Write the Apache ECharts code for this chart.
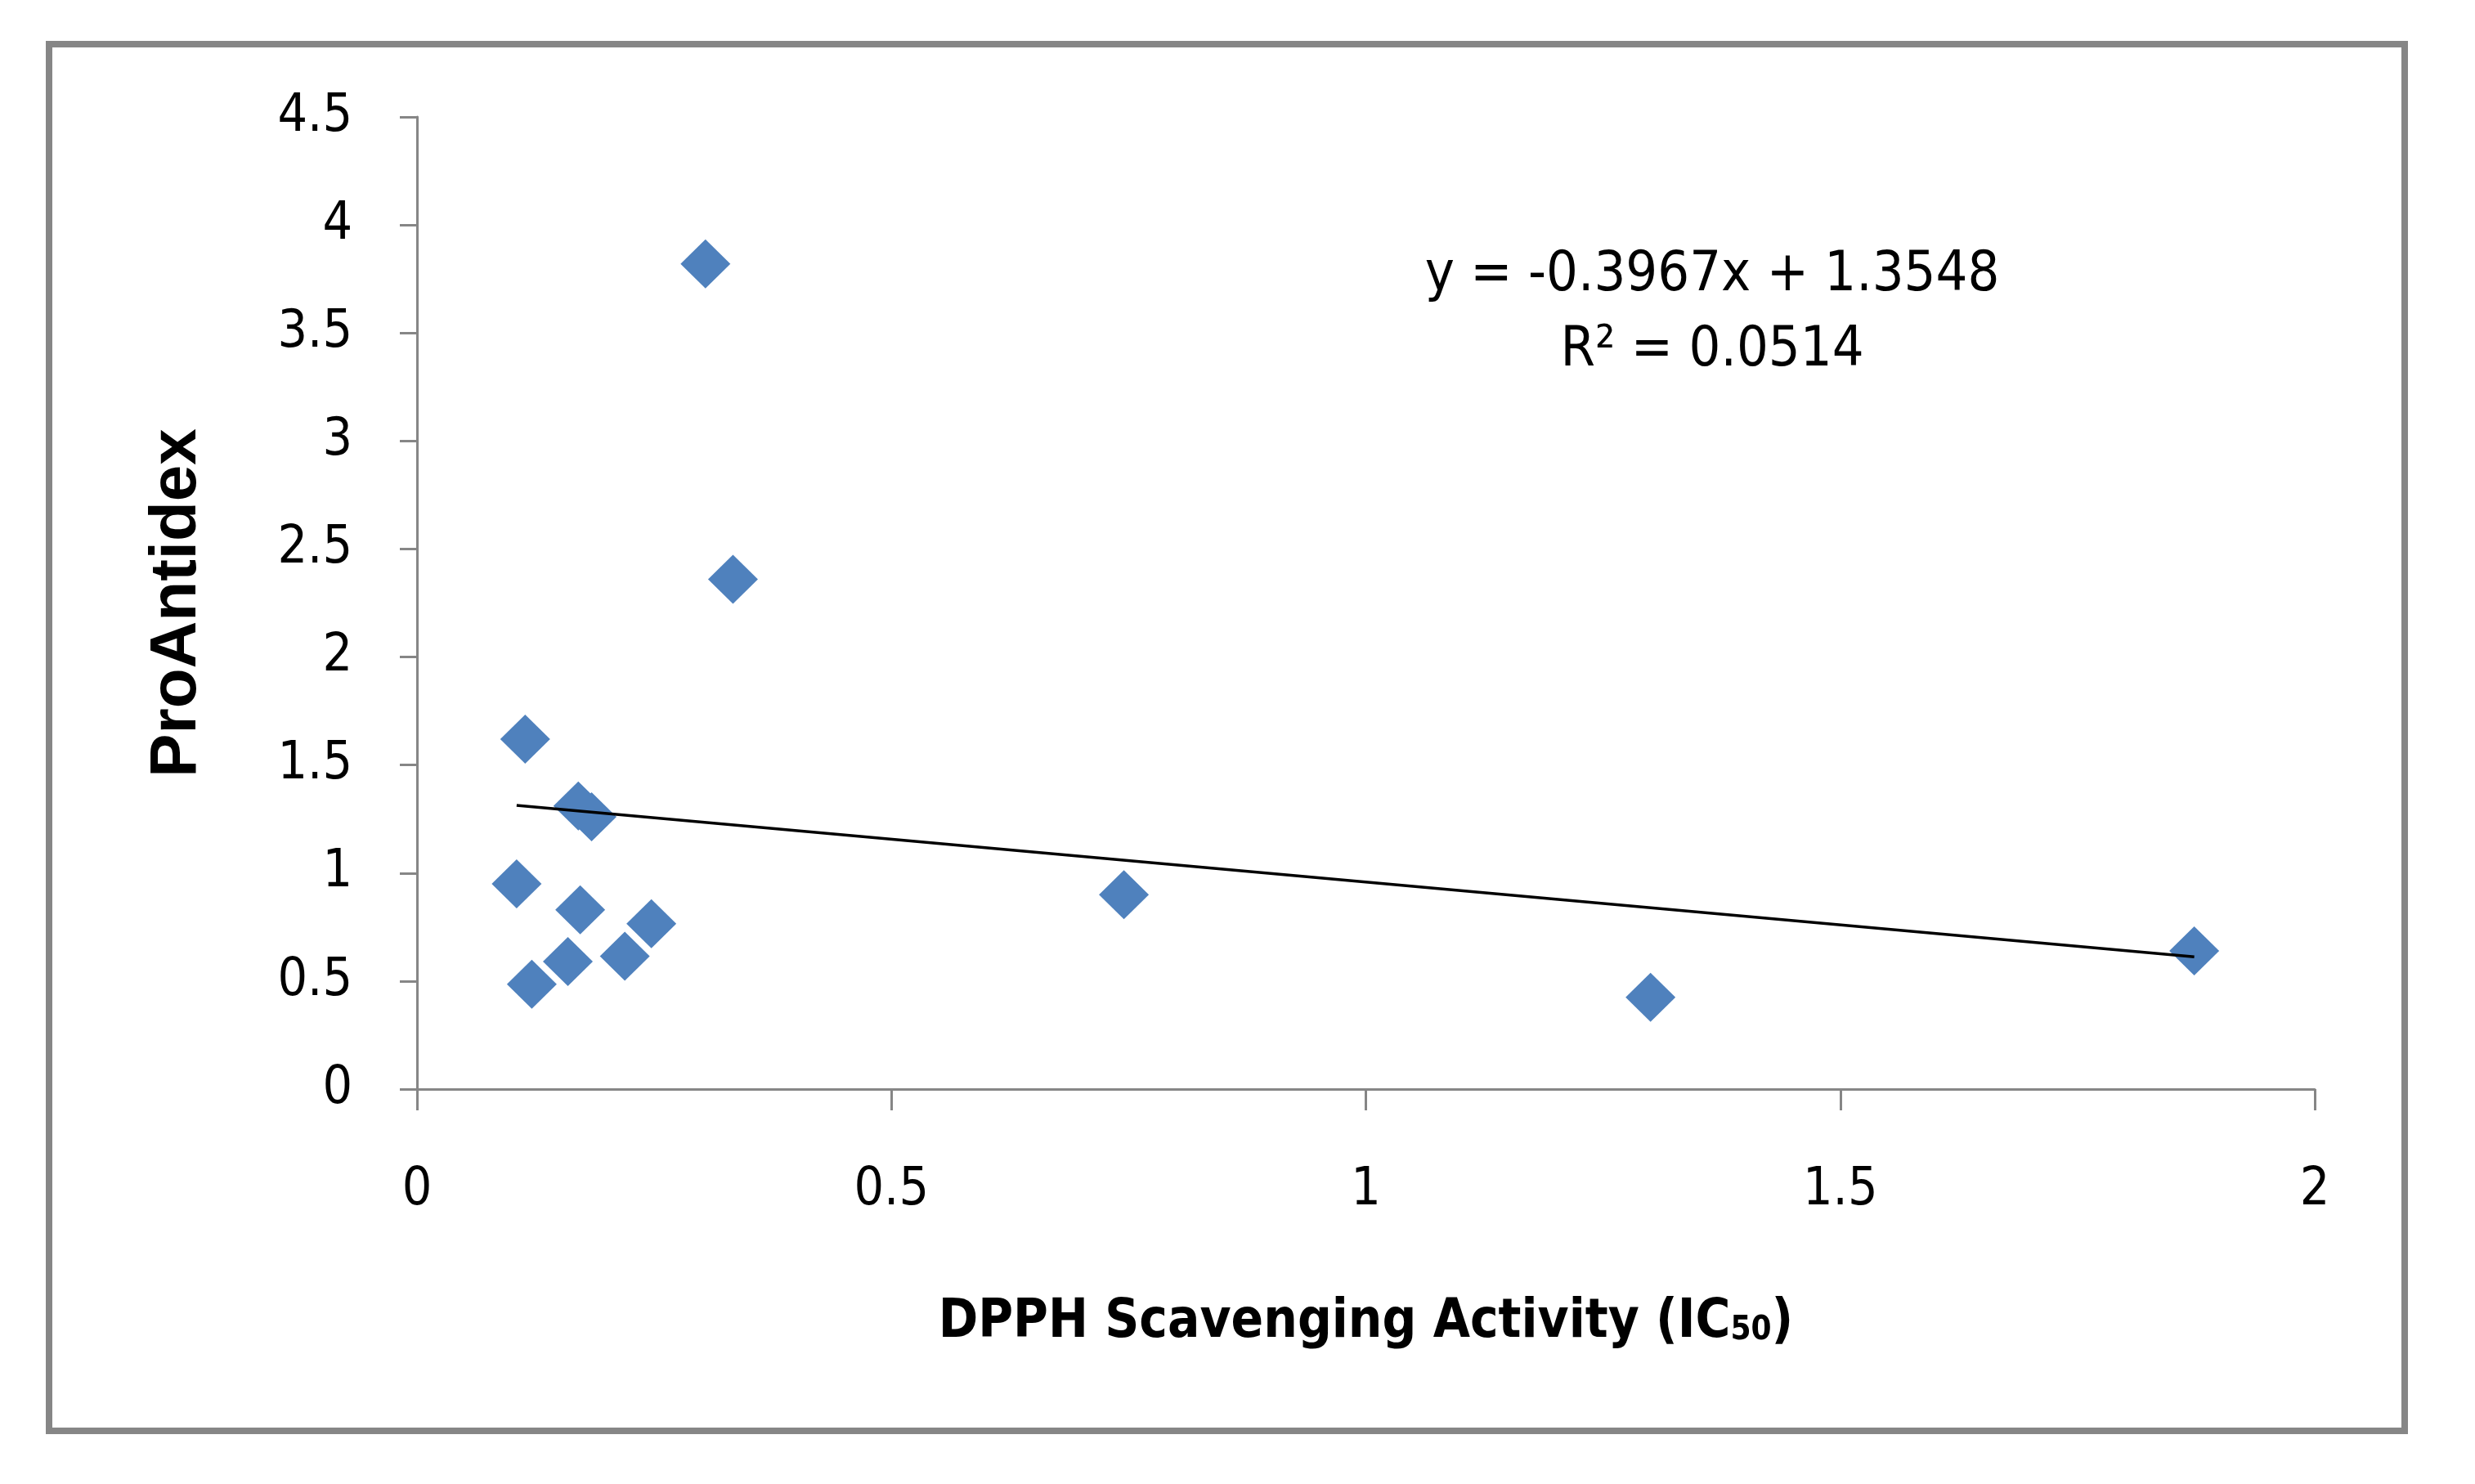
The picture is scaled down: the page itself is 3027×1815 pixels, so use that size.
<!DOCTYPE html>
<html>
<head>
<meta charset="utf-8">
<script src="https://cdn.jsdelivr.net/npm/echarts@6/dist/echarts.min.js"></script>
<style>
html,body{margin:0;padding:0;background:#fff;}
#c{width:3027px;height:1815px;}
</style>
</head>
<body>
<div id="c"></div>
<script>
// DPPH scavenging activity (IC50) vs ProAntidex
const dpphIC50 = [0.304, 0.333, 0.114, 0.170, 0.184, 0.105, 0.172, 0.247, 0.159, 0.219, 0.121, 0.745, 1.300, 1.873];
const proAntidex = [3.82, 2.36, 1.62, 1.31, 1.26, 0.95, 0.83, 0.765, 0.59, 0.615, 0.485, 0.90, 0.425, 0.64];
// Linear trendline endpoints (y = -0.3967x + 1.3548 over data range)
const trendX = [0.105, 1.873];
const trendY = [1.313, 0.612];
const equationText = 'y = -0.3967x + 1.3548';
const r2Text = 'R² = 0.0514';
const xTitle = 'DPPH Scavenging Activity (IC';
const xTitleSub = '50';
const yTitle = 'ProAntidex';

const narrow = '"Liberation Sans Narrow", "DejaVu Sans Condensed", "Liberation Sans", sans-serif';

const points = dpphIC50.map((x, i) => [x, proAntidex[i]]);
const trend = trendX.map((x, i) => [x, trendY[i]]);

const chart = echarts.init(document.getElementById('c'));
chart.setOption({
  backgroundColor: '#ffffff',
  animation: false,
  grid: { left: 510, right: 196, top: 143, bottom: 483, containLabel: false },
  xAxis: {
    type: 'value', min: 0, max: 2, interval: 0.5,
    axisLine: { show: true, onZero: false, lineStyle: { color: '#868686', width: 3 } },
    axisTick: { show: true, length: 26, lineStyle: { color: '#868686', width: 3 } },
    splitLine: { show: false },
    axisLabel: { margin: 92, fontSize: 64, color: '#000', fontFamily: narrow },
    name: '{a|' + xTitle + '}{b|' + xTitleSub + '}{a|)}',
    nameLocation: 'middle', nameGap: 250,
    nameTextStyle: {
      rich: {
        a: { fontSize: 65, fontWeight: 'bold', color: '#000', fontFamily: narrow, lineHeight: 72 },
        b: { fontSize: 40, fontWeight: 'bold', color: '#000', fontFamily: narrow, lineHeight: 72, padding: [20, 0, 0, 0] }
      }
    }
  },
  yAxis: {
    type: 'value', min: 0, max: 4.5, interval: 0.5,
    axisLine: { show: true, onZero: false, lineStyle: { color: '#868686', width: 3 } },
    axisTick: { show: true, length: 21, lineStyle: { color: '#868686', width: 3 } },
    splitLine: { show: false },
    axisLabel: { margin: 79, fontSize: 64, color: '#000', fontFamily: narrow },
    name: yTitle, nameLocation: 'middle', nameGap: 253, nameRotate: 90,
    nameTextStyle: { fontSize: 80, fontWeight: 'bold', color: '#000', fontFamily: '"Liberation Sans", Arial, sans-serif' }
  },
  series: [
    {
      type: 'line', data: trend, showSymbol: false, symbol: 'none', silent: true,
      lineStyle: { color: '#000', width: 3.5 }, z: 3
    },
    {
      type: 'scatter', data: points, symbol: 'diamond', symbolSize: [61, 60],
      itemStyle: { color: '#4F81BD', opacity: 1 }, z: 2
    }
  ],
  graphic: [
    {
      type: 'rect', shape: { x: 60, y: 54, width: 2881, height: 1696 },
      style: { fill: 'none', stroke: '#868686', lineWidth: 8 }, silent: true, z: 0
    },
    {
      type: 'text', x: 2094, y: 383,
      style: {
        text: equationText + '\n' + r2Text, align: 'center', verticalAlign: 'middle',
        fontSize: 68, lineHeight: 92, fill: '#000', fontFamily: narrow
      }
    }
  ]
});
</script>
</body>
</html>
